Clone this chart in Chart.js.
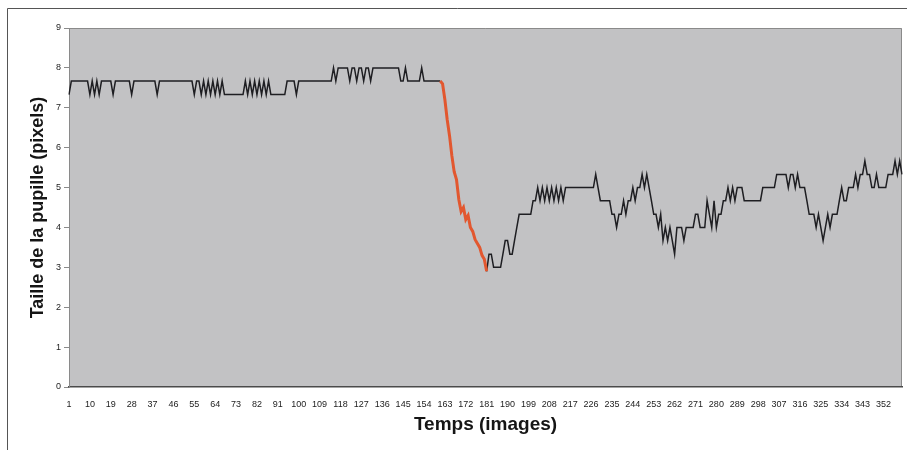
<!DOCTYPE html>
<html>
<head>
<meta charset="utf-8">
<script src="https://cdn.jsdelivr.net/npm/chart.js@4.4.1/dist/chart.umd.min.js"></script>
<style>
  html, body { margin: 0; padding: 0; background: #ffffff; }
  #wrap { position: relative; width: 907px; height: 450px; }
  canvas { display: block; }
</style>
</head>
<body>
<div id="wrap"><canvas id="c" width="907" height="450"></canvas></div>
<script>
// ---- DATA ----
const frameCount = 360;
const frames = [];
for (let i = 1; i <= frameCount; i++) frames.push(String(i));
const labelStep = 9;
const yTickValues = [0, 1, 2, 3, 4, 5, 6, 7, 8, 9];

// frames 1..161 (black)
const baseline = [
  7.33, 7.67, 7.67, 7.67, 7.67, 7.67, 7.67, 7.67, 7.67, 7.33,
  7.67, 7.33, 7.67, 7.33, 7.67, 7.67, 7.67, 7.67, 7.67, 7.33,
  7.67, 7.67, 7.67, 7.67, 7.67, 7.67, 7.67, 7.33, 7.67, 7.67,
  7.67, 7.67, 7.67, 7.67, 7.67, 7.67, 7.67, 7.67, 7.33, 7.67,
  7.67, 7.67, 7.67, 7.67, 7.67, 7.67, 7.67, 7.67, 7.67, 7.67,
  7.67, 7.67, 7.67, 7.67, 7.33, 7.67, 7.67, 7.33, 7.67, 7.33,
  7.67, 7.33, 7.67, 7.33, 7.67, 7.33, 7.67, 7.33, 7.33, 7.33,
  7.33, 7.33, 7.33, 7.33, 7.33, 7.33, 7.67, 7.33, 7.67, 7.33,
  7.67, 7.33, 7.67, 7.33, 7.67, 7.33, 7.67, 7.33, 7.33, 7.33,
  7.33, 7.33, 7.33, 7.33, 7.67, 7.67, 7.67, 7.67, 7.33, 7.67,
  7.67, 7.67, 7.67, 7.67, 7.67, 7.67, 7.67, 7.67, 7.67, 7.67,
  7.67, 7.67, 7.67, 7.67, 8.00, 7.67, 8.00, 8.00, 8.00, 8.00,
  8.00, 7.67, 8.00, 8.00, 7.67, 8.00, 8.00, 7.67, 8.00, 8.00,
  7.67, 8.00, 8.00, 8.00, 8.00, 8.00, 8.00, 8.00, 8.00, 8.00,
  8.00, 8.00, 8.00, 7.67, 7.67, 8.00, 7.67, 7.67, 7.67, 7.67,
  7.67, 7.67, 8.00, 7.67, 7.67, 7.67, 7.67, 7.67, 7.67, 7.67,
  7.67
];

// frames 161..181 (red, constriction)
const constriction = [
  7.67, 7.6, 7.2, 6.7, 6.3, 5.8, 5.4, 5.2, 4.7, 4.4,
  4.5, 4.2, 4.3, 4.0, 3.9, 3.7, 3.6, 3.5, 3.3, 3.2,
  2.9
];

// frames 181..360 (black, recovery)
const recovery = [
  2.9, 3.33, 3.33, 3.0, 3.0, 3.0, 3.0, 3.33, 3.67, 3.67,
  3.33, 3.33, 3.67, 4.0, 4.33, 4.33, 4.33, 4.33, 4.33, 4.33,
  4.67, 4.67, 5.0, 4.67, 5.0, 4.67, 5.0, 4.67, 5.0, 4.67,
  5.0, 4.67, 5.0, 4.67, 5.0, 5.0, 5.0, 5.0, 5.0, 5.0,
  5.0, 5.0, 5.0, 5.0, 5.0, 5.0, 5.0, 5.33, 5.0, 4.67,
  4.67, 4.67, 4.67, 4.67, 4.33, 4.33, 4.0, 4.33, 4.33, 4.67,
  4.33, 4.67, 4.67, 5.0, 4.67, 5.0, 5.0, 5.33, 5.0, 5.33,
  5.0, 4.67, 4.33, 4.33, 4.0, 4.33, 3.67, 4.0, 3.67, 4.0,
  3.67, 3.33, 4.0, 4.0, 4.0, 3.67, 4.0, 4.0, 4.0, 4.0,
  4.33, 4.33, 4.0, 4.0, 4.0, 4.67, 4.33, 4.0, 4.67, 4.0,
  4.33, 4.33, 4.67, 4.67, 5.0, 4.67, 5.0, 4.67, 5.0, 5.0,
  5.0, 4.67, 4.67, 4.67, 4.67, 4.67, 4.67, 4.67, 4.67, 5.0,
  5.0, 5.0, 5.0, 5.0, 5.0, 5.33, 5.33, 5.33, 5.33, 5.33,
  5.0, 5.33, 5.33, 5.0, 5.33, 5.0, 5.0, 5.0, 4.67, 4.33,
  4.33, 4.33, 4.0, 4.33, 4.0, 3.67, 4.0, 4.33, 4.0, 4.33,
  4.33, 4.33, 4.67, 5.0, 4.67, 4.67, 5.0, 5.0, 5.0, 5.33,
  5.0, 5.33, 5.33, 5.67, 5.33, 5.33, 5.0, 5.0, 5.33, 5.0,
  5.0, 5.0, 5.0, 5.33, 5.33, 5.33, 5.67, 5.33, 5.67, 5.33
];

const yTitle = 'Taille de la pupille (pixels)';
const xTitle = 'Temps (images)';

// ---- BUILD DATASETS ----
const constrictionStart = 160; // zero-based index of frame 161
const recoveryStart = 180;     // zero-based index of frame 181
const blackData = frames.map((_, k) => {
  if (k < baseline.length) return baseline[k];
  if (k >= recoveryStart) return recovery[k - recoveryStart];
  return null;
});
const redData = frames.map((_, k) => {
  const j = k - constrictionStart;
  return (j >= 0 && j < constriction.length) ? constriction[j] : null;
});

Chart.defaults.font.family = '"Liberation Sans", Arial, sans-serif';

const bgPlugin = {
  id: 'bg',
  beforeDraw(chart) {
    const { ctx, chartArea: a } = chart;
    ctx.save();
    ctx.fillStyle = '#ffffff';
    ctx.fillRect(0, 0, chart.width, chart.height);
    // outer frame
    ctx.strokeStyle = '#555555';
    ctx.lineWidth = 1;
    ctx.beginPath();
    ctx.moveTo(7.5, 450);
    ctx.lineTo(7.5, 8.5);
    ctx.lineTo(907, 8.5);
    ctx.stroke();
    // plot area
    ctx.fillStyle = '#c2c2c4';
    ctx.fillRect(a.left, a.top, a.right - a.left, a.bottom - a.top);
    ctx.strokeStyle = '#8a8a8a';
    ctx.beginPath();
    ctx.moveTo(a.left, a.top + 0.5);
    ctx.lineTo(a.right - 0.5, a.top + 0.5);
    ctx.lineTo(a.right - 0.5, a.bottom);
    ctx.stroke();
    ctx.restore();
  }
};

new Chart(document.getElementById('c'), {
  type: 'line',
  data: {
    labels: frames,
    datasets: [
      {
        label: 'constriction',
        data: redData,
        borderColor: '#e2572f',
        borderWidth: 3,
        pointRadius: 0,
        tension: 0,
        spanGaps: false
      },
      {
        label: 'pupille',
        data: blackData,
        borderColor: '#1e1e22',
        borderWidth: 1.5,
        pointRadius: 0,
        tension: 0,
        spanGaps: false
      }
    ]
  },
  options: {
    responsive: false,
    devicePixelRatio: 1,
    animation: false,
    layout: { padding: { left: 0, top: 28, right: 5, bottom: 0 } },
    plugins: { legend: { display: false }, tooltip: { enabled: false } },
    scales: {
      x: {
        type: 'category',
        afterFit(scale) { scale.height = 63; },
        grid: { display: true, drawOnChartArea: false, drawTicks: false },
        border: { display: true, color: '#4a4a4a', width: 1.5 },
        ticks: {
          autoSkip: false,
          maxRotation: 0,
          minRotation: 0,
          padding: 12,
          color: '#222222',
          font: { size: 9 },
          callback(val, idx) { return idx % labelStep === 0 ? frames[idx] : null; }
        },
        title: {
          display: true,
          text: xTitle,
          color: '#151515',
          font: { size: 19, weight: 'bold' },
          padding: { top: 0, bottom: 14 }
        }
      },
      y: {
        min: 0,
        max: 9,
        afterFit(scale) { scale.width = 69; },
        afterBuildTicks(scale) { scale.ticks = yTickValues.map(v => ({ value: v })); },
        grid: { display: true, drawOnChartArea: false, drawTicks: true, tickLength: 5, color: '#8a8a8a' },
        border: { display: true, color: '#8a8a8a', width: 1 },
        ticks: {
          padding: 3,
          color: '#222222',
          font: { size: 9 }
        },
        title: {
          display: true,
          text: yTitle,
          color: '#151515',
          font: { size: 18, weight: 'bold' },
          padding: { top: 27, bottom: 0 }
        }
      }
    }
  },
  plugins: [bgPlugin]
});
</script>
</body>
</html>
